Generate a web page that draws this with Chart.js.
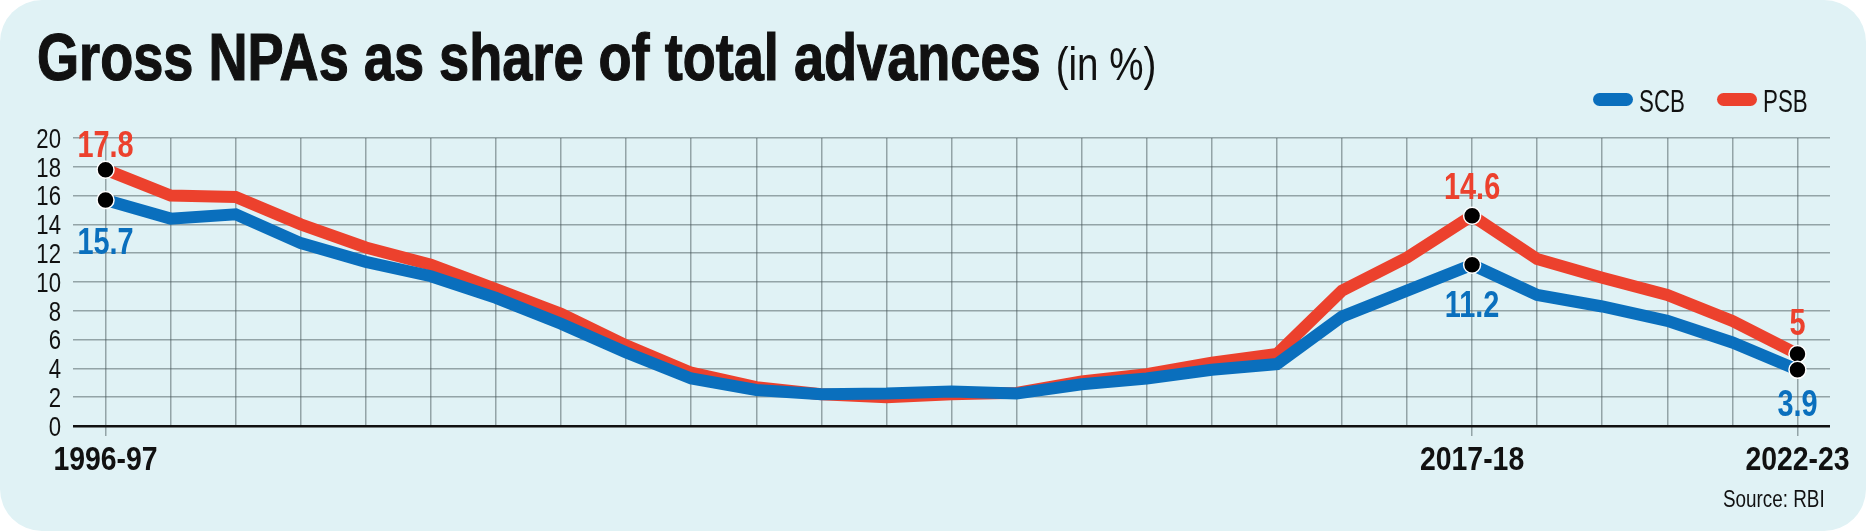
<!DOCTYPE html>
<html>
<head>
<meta charset="utf-8">
<script src="https://cdn.jsdelivr.net/npm/chart.js@4.4.0/dist/chart.umd.min.js"></script>
<style>
  html, body { margin: 0; padding: 0; background: #ffffff; }
  #card {
    position: relative;
    width: 1866px;
    height: 531px;
    background: #e0f2f5;
    border-radius: 42px;
    overflow: hidden;
    font-family: 'Liberation Sans', Arial, sans-serif;
    color: #111;
  }
  .narrow { position: absolute; line-height: 1; white-space: nowrap; transform: scaleX(0.82); transform-origin: left top; }
  #title { left: 37px; top: 24px; font-size: 66px; font-weight: bold; -webkit-text-stroke: 1.2px #111; }
  #title span { font-weight: normal; font-size: 47px; -webkit-text-stroke: 0; }
  .leg { top: 86px; font-size: 31px; transform: scaleX(0.72); }
  .swatch { position: absolute; top: 93px; width: 40px; height: 13px; border-radius: 7px; }
  #source { top: 488px; left: 1723px; font-size: 23px; }
  canvas { position: absolute; left: 0; top: 0; }
</style>
</head>
<body>
<div id="card">
  <canvas id="npaChart" width="1866" height="531"></canvas>
  <div id="title" class="narrow">Gross NPAs as share of total advances <span>(in %)</span></div>
  <div class="swatch" style="left:1593px;background:#0a6fbd"></div>
  <div class="leg narrow" style="left:1639px">SCB</div>
  <div class="swatch" style="left:1717px;background:#ec412d"></div>
  <div class="leg narrow" style="left:1763px">PSB</div>
  <div id="source" class="narrow">Source: RBI</div>
</div>
<script>
// fiscal years 1996-97 .. 2022-23
const years = ['1996-97', '1997-98', '1998-99', '1999-00', '2000-01', '2001-02', '2002-03',
	'2003-04', '2004-05', '2005-06', '2006-07', '2007-08', '2008-09', '2009-10', '2010-11',
	'2011-12', '2012-13', '2013-14', '2014-15', '2015-16', '2016-17', '2017-18', '2018-19',
	'2019-20', '2020-21', '2021-22', '2022-23'];

const scb = [15.7, 14.4, 14.7, 12.7, 11.4, 10.4, 8.9, 7.1, 5.1, 3.3, 2.5, 2.2, 2.25, 2.4,
	2.25, 2.9, 3.3, 3.9, 4.3, 7.6, 9.4, 11.2, 9.1, 8.3, 7.3, 5.8, 3.9];
const psb = [17.8, 16.0, 15.9, 14.0, 12.4, 11.2, 9.5, 7.8, 5.6, 3.7, 2.7, 2.2, 2.0, 2.2,
	2.3, 3.1, 3.6, 4.4, 5.0, 9.4, 11.7, 14.6, 11.6, 10.3, 9.1, 7.3, 5.0];

// years that get a tick label, a marker and value labels
const shownYears = ['1996-97', '2017-18', '2022-23'];

const BLUE = '#0a6fbd';
const RED = '#ec412d';
const GRID = 'rgba(70, 85, 90, 0.5)';
const FONT = "'Liberation Sans', Arial, sans-serif";

const isShown = (i) => shownYears.includes(years[i]);

// no narrow font installed, so squeeze Liberation Sans horizontally
function narrowText(ctx, text, x, y, align, font, color, squeeze) {
	ctx.save();
	ctx.font = font;
	ctx.fillStyle = color;
	ctx.textAlign = align;
	ctx.textBaseline = 'alphabetic';
	ctx.translate(x, y);
	ctx.scale(squeeze || 0.82, 1);
	ctx.fillText(text, 0, 0);
	ctx.restore();
}

// axis labels, placed from the chart's own scales
const axisLabels = {
	id: 'axisLabels',
	beforeDatasetsDraw(chart) {
		const ctx = chart.ctx;
		const xs = chart.scales.x;
		const ys = chart.scales.y;
		ys.ticks.forEach((t) => {
			const y = ys.getPixelForValue(t.value);
			narrowText(ctx, String(t.value), chart.chartArea.left - 12, y + 9.7, 'right', '27px ' + FONT, '#111');
		});
		shownYears.forEach((yr) => {
			const x = xs.getPixelForValue(years.indexOf(yr));
			narrowText(ctx, yr, x, chart.chartArea.bottom + 44, 'center', 'bold 33px ' + FONT, '#111', 0.86);
		});
	}
};

// value labels above (PSB) and below (SCB) the highlighted points
const valueLabels = {
	id: 'valueLabels',
	afterDatasetsDraw(chart) {
		const above = [-13, -17, -19];
		const below = [54, 52, 46];
		shownYears.forEach((yr, k) => {
			const i = years.indexOf(yr);
			const pPsb = chart.getDatasetMeta(1).data[i];
			const pScb = chart.getDatasetMeta(0).data[i];
			narrowText(chart.ctx, String(psb[i]), pPsb.x, pPsb.y + above[k], 'center', 'bold 37px ' + FONT, RED, 0.78);
			narrowText(chart.ctx, String(scb[i]), pScb.x, pScb.y + below[k], 'center', 'bold 37px ' + FONT, BLUE, 0.78);
		});
	}
};

const lineStyle = (color) => ({
	borderColor: color,
	backgroundColor: color,
	borderWidth: 12,
	borderJoinStyle: 'miter',
	borderCapStyle: 'butt',
	tension: 0,
	fill: false,
	pointRadius: (c) => isShown(c.dataIndex) ? 8.5 : 0,
	pointHoverRadius: 0,
	pointBackgroundColor: '#000',
	pointBorderColor: '#fff',
	pointBorderWidth: 1.5
});

new Chart(document.getElementById('npaChart').getContext('2d'), {
	type: 'line',
	data: {
		labels: years,
		datasets: [
			{ label: 'SCB', data: scb, ...lineStyle(BLUE) },
			{ label: 'PSB', data: psb, ...lineStyle(RED) }
		]
	},
	options: {
		responsive: false,
		animation: false,
		devicePixelRatio: 1,
		layout: { padding: { top: 138, right: 36, bottom: 35, left: 0 } },
		plugins: {
			legend: { display: false },
			tooltip: { enabled: false },
			title: { display: false }
		},
		scales: {
			x: {
				offset: true,
				border: { display: false },
				grid: {
					offset: false,
					color: GRID,
					lineWidth: 1.5,
					drawTicks: true,
					tickLength: 10,
					tickColor: (c) => isShown(c.index) ? GRID : 'transparent'
				},
				ticks: { display: false, autoSkip: false },
				afterFit: (s) => { s.height = 70; }
			},
			y: {
				min: 0,
				max: 20,
				border: { display: false },
				grid: {
					color: (c) => c.tick.value === 0 ? '#111' : GRID,
					lineWidth: (c) => c.tick.value === 0 ? 2.5 : 1.5,
					drawTicks: false
				},
				ticks: { display: false, stepSize: 2, autoSkip: false },
				afterFit: (s) => { s.width = 73; }
			}
		}
	},
	plugins: [axisLabels, valueLabels]
});
</script>
</body>
</html>
